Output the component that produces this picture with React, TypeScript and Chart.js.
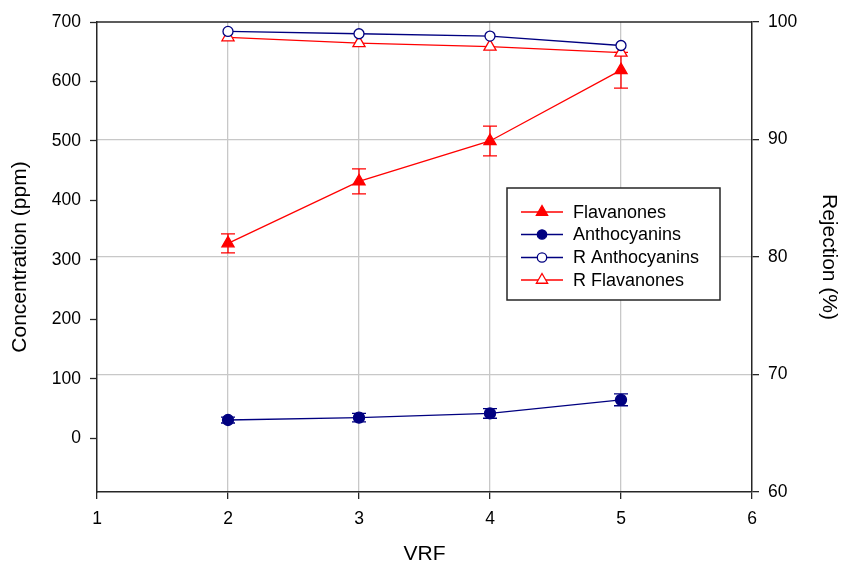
import React, { useEffect, useRef } from 'react';
import { Chart, registerables } from 'chart.js';

Chart.register(...registerables);

// ---- data ----
const vrf = [2, 3, 4, 5];
const flavanones = [328, 432, 500, 619];
const flavanonesErr = [16, 21, 25, 30];
const anthocyanins = [31, 35, 42, 65];
const anthocyaninsErr = [5, 7, 8, 10];
const rAnthocyanins = [99.2, 99.0, 98.8, 98.0];
const rFlavanones = [98.7, 98.2, 97.9, 97.4];
const xTicks = [1, 2, 3, 4, 5, 6];
const leftTicks = [0, 100, 200, 300, 400, 500, 600, 700];
const rightTicks = [60, 70, 80, 90, 100];
const seriesNames = ['Flavanones', 'Anthocyanins', 'R Anthocyanins', 'R Flavanones'];

// ---- styles ----
const RED = '#ff0000';
const NAVY = '#000080';
const FONT = "'Liberation Sans', Arial, Helvetica, sans-serif";
const AXIS = '#262626';
const GRID = '#c8c8c8';

const pts = (ys: number[]) => vrf.map((x, i) => ({ x, y: ys[i] }));

function drawMarker(ctx: CanvasRenderingContext2D, style: string, x: number, y: number, r: number, fill: string, stroke: string) {
  ctx.beginPath();
  if (style === 'triangle') {
    ctx.moveTo(x, y - r);
    ctx.lineTo(x + r * Math.sin((2 * Math.PI) / 3), y + r / 2);
    ctx.lineTo(x - r * Math.sin((2 * Math.PI) / 3), y + r / 2);
    ctx.closePath();
  } else {
    ctx.arc(x, y, r, 0, Math.PI * 2);
  }
  ctx.fillStyle = fill;
  ctx.fill();
  ctx.strokeStyle = stroke;
  ctx.lineWidth = 1.3;
  ctx.stroke();
}

const framePlugin = {
  id: 'frame',
  beforeDatasetsDraw(chart: any) {
    const { ctx, chartArea: a } = chart;
    ctx.save();
    ctx.strokeStyle = AXIS;
    ctx.lineWidth = 1.5;
    ctx.beginPath();
    ctx.moveTo(a.left, a.top);
    ctx.lineTo(a.right, a.top);
    ctx.stroke();
    ctx.restore();
  },
};

const errorBarPlugin = {
  id: 'errorBars',
  beforeDatasetsDraw(chart: any) {
    const ctx = chart.ctx;
    chart.data.datasets.forEach((ds: any) => {
      const err: number[] | undefined = ds.errors;
      if (!err) return;
      const xs = chart.scales.x;
      const ys = chart.scales[ds.yAxisID];
      ctx.save();
      ctx.strokeStyle = ds.borderColor;
      ctx.lineWidth = 1.3;
      ds.data.forEach((p: any, j: number) => {
        const x = xs.getPixelForValue(p.x);
        const yt = ys.getPixelForValue(p.y + err[j]);
        const yb = ys.getPixelForValue(p.y - err[j]);
        ctx.beginPath();
        ctx.moveTo(x, yt);
        ctx.lineTo(x, yb);
        ctx.moveTo(x - 7, yt);
        ctx.lineTo(x + 7, yt);
        ctx.moveTo(x - 7, yb);
        ctx.lineTo(x + 7, yb);
        ctx.stroke();
      });
      ctx.restore();
    });
  },
};

const legendPlugin = {
  id: 'customLegend',
  afterDraw(chart: any) {
    const ctx = chart.ctx;
    const bx = 507, by = 188, bw = 213, bh = 112;
    ctx.save();
    ctx.fillStyle = '#ffffff';
    ctx.fillRect(bx, by, bw, bh);
    ctx.strokeStyle = AXIS;
    ctx.lineWidth = 1.5;
    ctx.strokeRect(bx, by, bw, bh);
    const rowY = [212, 234.5, 257.5, 280];
    chart.data.datasets.forEach((ds: any, i: number) => {
      const y = rowY[i];
      ctx.strokeStyle = ds.borderColor;
      ctx.lineWidth = 1.3;
      ctx.beginPath();
      ctx.moveTo(521, y);
      ctx.lineTo(563, y);
      ctx.stroke();
      const r = ds.pointStyle === 'triangle' ? 6.5 : 4.7;
      drawMarker(ctx, ds.pointStyle, 542, y, r, ds.pointBackgroundColor, ds.borderColor);
      ctx.fillStyle = '#000';
      ctx.font = `18px ${FONT}`;
      ctx.textBaseline = 'middle';
      ctx.textAlign = 'left';
      ctx.fillText(ds.label, 573, y + 1);
    });
    ctx.restore();
  },
};

export default function App() {
  const ref = useRef<HTMLCanvasElement>(null);

  useEffect(() => {
    document.body.style.margin = '0';
    if (!ref.current) return;
    const edgeX = (c: any) => (c.tick && (c.tick.value === 1 || c.tick.value === 6) ? 'rgba(0,0,0,0)' : GRID);
    const edgeR = (c: any) => (c.tick && (c.tick.value === 60 || c.tick.value === 100) ? 'rgba(0,0,0,0)' : GRID);
    const chart = new Chart(ref.current, {
      type: 'line',
      data: {
        datasets: [
          {
            label: seriesNames[0],
            data: pts(flavanones),
            errors: flavanonesErr,
            yAxisID: 'y',
            borderColor: RED,
            backgroundColor: RED,
            pointBackgroundColor: RED,
            pointBorderColor: RED,
            pointStyle: 'triangle',
            pointRadius: 7,
            borderWidth: 1.3,
            pointBorderWidth: 1.3,
            tension: 0,
          } as any,
          {
            label: seriesNames[1],
            data: pts(anthocyanins),
            errors: anthocyaninsErr,
            yAxisID: 'y',
            borderColor: NAVY,
            backgroundColor: NAVY,
            pointBackgroundColor: NAVY,
            pointBorderColor: NAVY,
            pointStyle: 'circle',
            pointRadius: 5.5,
            borderWidth: 1.3,
            pointBorderWidth: 1.3,
            tension: 0,
          } as any,
          {
            label: seriesNames[2],
            data: pts(rAnthocyanins),
            yAxisID: 'y1',
            borderColor: NAVY,
            backgroundColor: '#ffffff',
            pointBackgroundColor: '#ffffff',
            pointBorderColor: NAVY,
            pointStyle: 'circle',
            pointRadius: 5,
            borderWidth: 1.3,
            pointBorderWidth: 1.3,
            tension: 0,
          } as any,
          {
            label: seriesNames[3],
            data: pts(rFlavanones),
            yAxisID: 'y1',
            borderColor: RED,
            backgroundColor: '#ffffff',
            pointBackgroundColor: '#ffffff',
            pointBorderColor: RED,
            pointStyle: 'triangle',
            pointRadius: 7,
            borderWidth: 1.3,
            pointBorderWidth: 1.3,
            tension: 0,
          } as any,
        ],
      },
      options: {
        responsive: false,
        animation: false,
        devicePixelRatio: 1,
        layout: { padding: { top: 22, left: 0, right: 0, bottom: 0 } },
        plugins: {
          legend: { display: false },
          tooltip: { enabled: false },
        },
        scales: {
          x: {
            type: 'linear',
            min: 1,
            max: 6,
            afterBuildTicks: (s: any) => {
              s.ticks = xTicks.map((v) => ({ value: v }));
            },
            afterFit: (s: any) => {
              s.height = 75;
            },
            grid: { color: edgeX, lineWidth: 1.3, tickColor: AXIS, tickWidth: 1.3, tickLength: 7 },
            border: { display: true, color: AXIS, width: 1.5 },
            ticks: { color: '#000', font: { family: FONT, size: 17.5 }, padding: 10, maxRotation: 0 },
            title: { display: true, text: 'VRF', color: '#000', font: { family: FONT, size: 21 }, padding: { top: 0, bottom: 0 } },
          },
          y: {
            type: 'linear',
            position: 'left',
            min: -90,
            max: 700,
            afterBuildTicks: (s: any) => {
              s.ticks = leftTicks.map((v) => ({ value: v }));
            },
            afterFit: (s: any) => {
              s.width = 97;
            },
            grid: { drawOnChartArea: false, color: AXIS, tickColor: AXIS, tickWidth: 1.3, tickLength: 7 },
            border: { display: true, color: AXIS, width: 1.5 },
            ticks: { color: '#000', font: { family: FONT, size: 17.5 }, padding: 9 },
            title: { display: true, text: 'Concentration (ppm)', color: '#000', font: { family: FONT, size: 21 }, padding: { top: 8, bottom: 0 } },
          },
          y1: {
            type: 'linear',
            position: 'right',
            min: 60,
            max: 100,
            afterBuildTicks: (s: any) => {
              s.ticks = rightTicks.map((v) => ({ value: v }));
            },
            afterFit: (s: any) => {
              s.width = 90;
            },
            grid: { color: edgeR, lineWidth: 1.3, tickColor: AXIS, tickWidth: 1.3, tickLength: 7 },
            border: { display: true, color: AXIS, width: 1.5 },
            ticks: { color: '#000', font: { family: FONT, size: 17.5 }, padding: 9 },
            title: { display: true, text: 'Rejection (%)', color: '#000', font: { family: FONT, size: 21 }, padding: { top: 1, bottom: 0 } },
          },
        },
      } as any,
      plugins: [framePlugin, errorBarPlugin, legendPlugin],
    });
    return () => chart.destroy();
  }, []);

  return (
    <div style={{ position: 'absolute', left: 0, top: 0, width: 842, height: 567 }}>
      <canvas ref={ref} width={842} height={567} style={{ width: 842, height: 567 }} />
    </div>
  );
}
